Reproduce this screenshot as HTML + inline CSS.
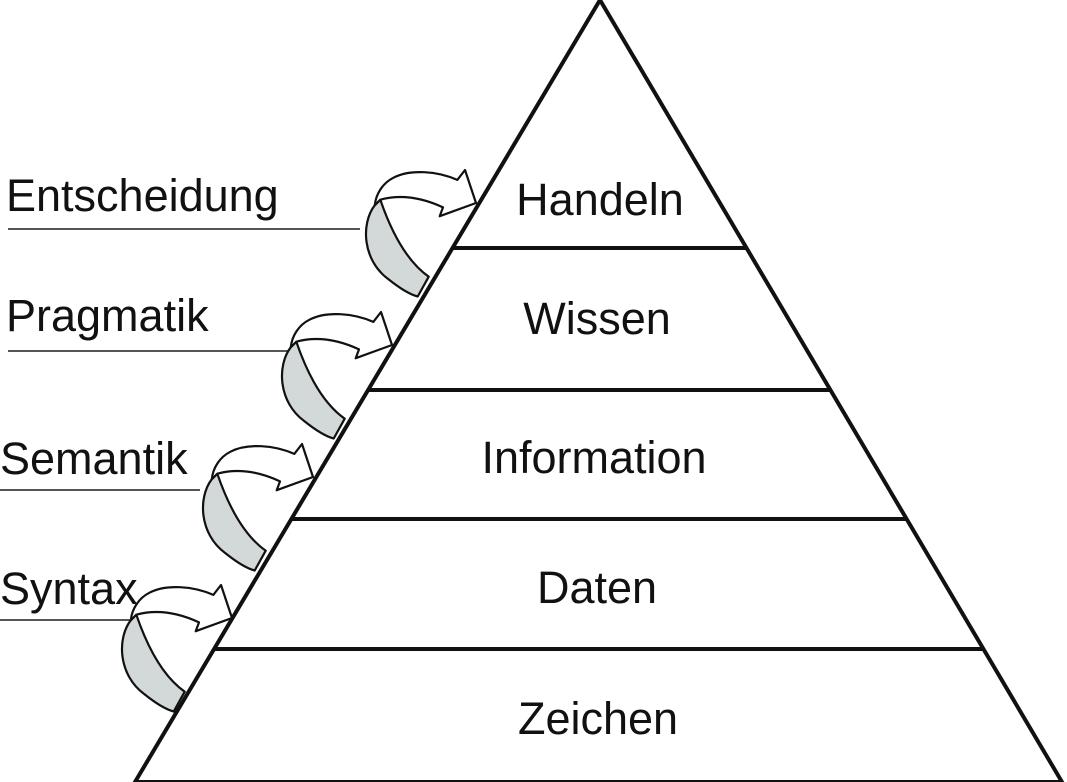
<!DOCTYPE html>
<html><head><meta charset="utf-8"><style>
html,body{margin:0;padding:0;background:#fff;}
svg{display:block}
text{font-family:"Liberation Sans",sans-serif;font-size:45px;fill:#111}
</style></head><body>
<svg width="1067" height="782" viewBox="0 0 1067 782">
<defs>
<g id="arr" stroke="#111" stroke-width="2" stroke-linejoin="round">
<path d="M33,45 C20,62 22,95 45,112 C55,120 64,126 72,128 L82,110 C65,98 50,75 38,40 Z" fill="#d3d9d9"/>
<path d="M33,45 C34,35 40,25 50,20 C65,12 90,14 108,22 L115,13 L125,43 L92,55 L95,47 C80,40 60,34 38,40 Z" fill="#fff"/>
</g>
</defs>
<polygon points="600,0 135,782 1062,782" fill="none" stroke="#111" stroke-width="4"/>
<g stroke="#111" stroke-width="4">
<line x1="452" y1="248" x2="746" y2="248"/>
<line x1="368" y1="390" x2="830" y2="390"/>
<line x1="291" y1="519" x2="906" y2="519"/>
<line x1="214" y1="649" x2="983" y2="649"/>
</g>
<g stroke="#555" stroke-width="2">
<line x1="8" y1="229" x2="360" y2="229"/>
<line x1="8" y1="351" x2="290" y2="351"/>
<line x1="0" y1="490" x2="200" y2="490"/>
<line x1="0" y1="620" x2="130" y2="620"/>
</g>
<use href="#arr" transform="translate(338.5,155.7) scale(1.1)"/>
<use href="#arr" transform="translate(254.5,297.7) scale(1.1)"/>
<use href="#arr" transform="translate(175.5,429.7) scale(1.1)"/>
<use href="#arr" transform="translate(94.5,570.7) scale(1.1)"/>
<text x="6" y="211">Entscheidung</text>
<text x="6" y="331">Pragmatik</text>
<text x="0" y="474">Semantik</text>
<text x="0" y="604">Syntax</text>
<g text-anchor="middle">
<text x="600" y="215">Handeln</text>
<text x="597" y="334">Wissen</text>
<text x="594" y="473">Information</text>
<text x="597" y="603">Daten</text>
<text x="598" y="734">Zeichen</text>
</g>
</svg>
</body></html>
